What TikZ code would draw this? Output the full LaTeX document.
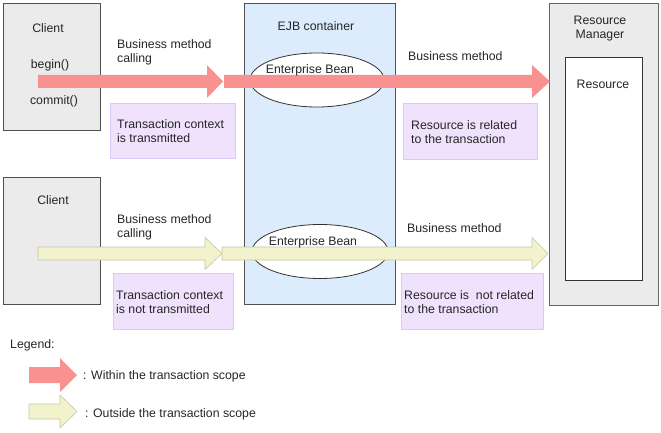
\documentclass[tikz,border=0pt]{standalone}
\usepackage{fontspec}
\setmainfont{Liberation Sans}
\usetikzlibrary{calc}
\definecolor{boxgray}{HTML}{EBEBEB}
\definecolor{boxline}{HTML}{505050}
\definecolor{ejbfill}{HTML}{DCECFC}
\definecolor{purfill}{HTML}{F0E2FC}
\definecolor{purline}{HTML}{DCC8F4}
\definecolor{redarrow}{HTML}{FA9191}
\definecolor{yelfill}{HTML}{F2F2CC}
\definecolor{yelline}{HTML}{C4C8A4}
\newcommand{\blockarrow}[7]{% style, x1, xbase, xtip, ymid, halfshaft, halfhead
  \path[#1] (#2,#5-#6) -- (#3,#5-#6) -- (#3,#5-#7) -- (#4,#5) -- (#3,#5+#7) -- (#3,#5+#6) -- (#2,#5+#6) -- cycle;}
\begin{document}
\begin{tikzpicture}[x=1pt,y=-1pt,
  txt/.style={inner sep=0pt, font=\fontsize{12.3}{14.3}\selectfont, text=black!85},
  lbl/.style={txt, anchor=base west, align=left},
  ctr/.style={txt, anchor=base},
  graybox/.style={draw=boxline, fill=boxgray, line width=0.9pt},
  purbox/.style={draw=purline, fill=purfill, line width=0.8pt},
  within/.style={fill=redarrow},
  outside/.style={fill=yelfill, draw=yelline, line width=0.6pt},
  bean/.style={draw=black!80, fill=white, line width=0.8pt}]
\useasboundingbox (0,0) rectangle (661,433);
% boxes
\path[graybox] (3,3) rectangle (100,130);
\path[graybox] (3,177) rectangle (100,304);
\path[draw=boxline, fill=ejbfill, line width=0.9pt] (244,3) rectangle (395,304);
\path[draw=black!60, fill=boxgray, line width=0.9pt] (549,3) rectangle (658,305);
\path[draw=black!80, fill=white, line width=0.9pt] (565,57) rectangle (642,280);
% beans
\path[bean] (317,80) ellipse [x radius=67, y radius=27];
\path[bean] (320,251.5) ellipse [x radius=68, y radius=27];
% purple boxes
\path[purbox] (110,103) rectangle (235,158);
\path[purbox] (113,273) rectangle (233,329);
\path[purbox] (403,103) rectangle (537,159);
\path[purbox] (401,273) rectangle (543,329);
% arrows
\blockarrow{within}{38}{207}{223}{81.5}{6.5}{16.5}
\blockarrow{within}{224}{532}{550}{81.5}{6.5}{16.5}
\blockarrow{outside}{38}{205}{222}{253.5}{6.5}{16}
\blockarrow{outside}{222}{532}{548}{253.5}{6.5}{16}
\blockarrow{within}{29}{60}{77}{375}{8}{17}
\blockarrow{outside}{29}{60}{77}{411.5}{7.5}{16.5}
% texts
\begin{scope}[yshift=-1.5pt]
\node[ctr] (tclient1) at (48,31) {Client};
\node[ctr] (tbegin) at (50,67) {begin()};
\node[ctr] (tcommit) at (54,103) {commit()};
\node[ctr] (tclient2) at (53,203) {Client};
\node[ctr] (tejb) at (316,29) {EJB container};
\node[ctr] (tbean1) at (310,72) {Enterprise Bean};
\node[ctr] (tbean2) at (313,244) {Enterprise Bean};
\node[ctr, align=center] (trm) at (600,37) {Resource\\Manager};
\node[ctr] (tres) at (603,87) {Resource};
\node[lbl] (tbm1) at (117,61) {Business method\\calling};
\node[lbl] (tbm2) at (117,236) {Business method\\calling};
\node[lbl] (tbm3) at (408,59) {Business method};
\node[lbl] (tbm4) at (407,231) {Business method};
\node[lbl] (tp1) at (117,141) {Transaction context\\is transmitted};
\node[lbl] (tp2) at (116,312) {Transaction context\\is not transmitted};
\node[lbl] (tp3) at (411,142) {Resource is related\\to the transaction};
\node[lbl] (tp4) at (404,312) {Resource is\ \ not related\\to the transaction};
\node[lbl] (tleg) at (10,347) {Legend:};
\node[lbl] (tin) at (83,378) {: Within the transaction scope};
\node[lbl] (tout) at (85,416) {: Outside the transaction scope};
\end{scope}
\end{tikzpicture}
\end{document}
